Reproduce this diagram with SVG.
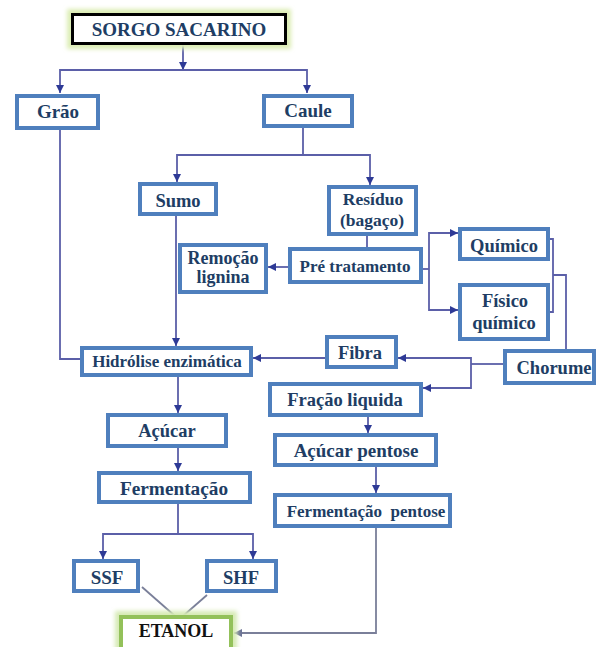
<svg xmlns="http://www.w3.org/2000/svg" width="597" height="647" viewBox="0 0 597 647">
  <defs>
    <marker id="arr" markerUnits="userSpaceOnUse" markerWidth="9" markerHeight="8" refX="8" refY="4" orient="auto">
      <path d="M0,0 L8,4 L0,8 Z" fill="#2e3a96"/>
    </marker>
    <marker id="arrGray" markerUnits="userSpaceOnUse" markerWidth="9" markerHeight="8" refX="8" refY="4" orient="auto">
      <path d="M0,0 L8,4 L0,8 Z" fill="#6b7296"/>
    </marker>
    <filter id="glow" x="-20%" y="-40%" width="140%" height="180%">
      <feGaussianBlur stdDeviation="2"/>
    </filter>
  </defs>
  <style>
    .box { fill: #ffffff; stroke: #4f7fbd; stroke-width: 4; }
    .lbl { fill: #203d64; text-anchor: middle; }
    .blk { fill: #111111; }
    .ln { fill: none; stroke: #5b5fa8; stroke-width: 1.8; }
    .ar { marker-end: url(#arr); }
    .gray { fill: none; stroke: #7a7f99; stroke-width: 1.8; }
  </style>
  <rect width="597" height="647" fill="#ffffff"/>

  <!-- connectors -->
  <g id="connectors">
    <path class="ln ar" d="M183 45 V70"/>
    <path class="ln ar" d="M183 70 H60 V93"/>
    <path class="ln ar" d="M183 70 H307 V93"/>
    <path class="ln" d="M303 128 V155"/>
    <path class="ln ar" d="M303 155 H177 V182"/>
    <path class="ln ar" d="M303 155 H370 V185"/>
    <path class="ln" d="M367 236 V247"/>
    <path class="ln ar" d="M288 267 H268"/>
    <path class="ln ar" d="M176 216 V346"/>
    <path class="ln" d="M60 130 V359 H80"/>
    <path class="ln" d="M423 269 H429"/>
    <path class="ln ar" d="M429 269 V233 H458"/>
    <path class="ln ar" d="M429 269 V310 H458"/>
    <path class="ln" d="M550 239 H553 V312 H550"/>
    <path class="ln" d="M553 275 H566 V349"/>
    <path class="ln" d="M503 364 H471"/>
    <path class="ln ar" d="M471 364 V358 H398"/>
    <path class="ln ar" d="M471 364 V388 H423"/>
    <path class="ln ar" d="M325 358 H253"/>
    <path class="ln ar" d="M178 377 V413"/>
    <path class="ln ar" d="M178 448 V471"/>
    <path class="ln" d="M178 504 V534"/>
    <path class="ln ar" d="M178 534 H103 V559"/>
    <path class="ln ar" d="M178 534 H253 V559"/>
    <path class="gray" d="M142 587 L175 616"/>
    <path class="gray" d="M207 595 L183 616"/>
    <path class="ln ar" d="M368 417 V433"/>
    <path class="ln ar" d="M376 467 V493"/>
    <path class="gray" d="M376 527 V633 H234" marker-end="url(#arrGray)"/>
  </g>

  <!-- nodes -->
  <g id="sorgo">
    <rect x="67" y="9" width="224" height="40" fill="#dcedb4" filter="url(#glow)"/>
    <rect x="72.5" y="14.5" width="213" height="29" fill="#ffffff" stroke="#000000" stroke-width="3"/>
    <text class="lbl" x="179" y="36" font-family="Liberation Serif" font-weight="bold" font-size="19">SORGO SACARINO</text>
  </g>
  <g id="grao">
    <rect class="box" x="17" y="96" width="81" height="32"/>
    <text class="lbl" x="58" y="118" font-family="Liberation Serif" font-weight="bold" font-size="19">Grão</text>
  </g>
  <g id="caule">
    <rect class="box" x="264" y="96" width="88" height="30"/>
    <text class="lbl" x="308" y="117" font-family="Liberation Serif" font-weight="bold" font-size="19">Caule</text>
  </g>
  <g id="sumo">
    <rect class="box" x="140" y="184" width="76" height="30"/>
    <text class="lbl" x="178" y="207" font-family="Liberation Serif" font-weight="bold" font-size="18.5">Sumo</text>
  </g>
  <g id="residuo">
    <rect class="box" x="329" y="187" width="87" height="47"/>
    <text class="lbl" x="373" y="205" font-family="Liberation Serif" font-weight="bold" font-size="17.5">Resíduo</text>
    <text class="lbl" x="372" y="226" font-family="Liberation Serif" font-weight="bold" font-size="17.5">(bagaço)</text>
  </g>
  <g id="pre-tratamento">
    <rect class="box" x="290" y="249" width="131" height="33"/>
    <text class="lbl" x="355" y="272" font-family="Liberation Serif" font-weight="bold" font-size="17">Pré tratamento</text>
  </g>
  <g id="remocao-lignina">
    <rect class="box" x="180" y="245" width="86" height="47"/>
    <text class="lbl" x="223" y="264" font-family="Liberation Serif" font-weight="bold" font-size="18">Remoção</text>
    <text class="lbl" x="223" y="283" font-family="Liberation Serif" font-weight="bold" font-size="18">lignina</text>
  </g>
  <g id="quimico">
    <rect class="box" x="460" y="229" width="88" height="30"/>
    <text class="lbl" x="504" y="252" font-family="Liberation Serif" font-weight="bold" font-size="18.5">Químico</text>
  </g>
  <g id="fisico-quimico">
    <rect class="box" x="460" y="285" width="88" height="54"/>
    <text class="lbl" x="505" y="307" font-family="Liberation Serif" font-weight="bold" font-size="18.5">Físico</text>
    <text class="lbl" x="504" y="329" font-family="Liberation Serif" font-weight="bold" font-size="18.5">químico</text>
  </g>
  <g id="chorume">
    <rect class="box" x="505" y="351" width="89" height="32"/>
    <text class="lbl" x="554" y="374" font-family="Liberation Serif" font-weight="bold" font-size="18.5">Chorume</text>
  </g>
  <g id="hidrolise">
    <rect class="box" x="82" y="348" width="169" height="27"/>
    <text class="lbl" x="167" y="367" font-family="Liberation Serif" font-weight="bold" font-size="17">Hidrólise enzimática</text>
  </g>
  <g id="fibra">
    <rect class="box" x="327" y="337" width="69" height="30"/>
    <text class="lbl" x="360" y="359" font-family="Liberation Serif" font-weight="bold" font-size="18.5">Fibra</text>
  </g>
  <g id="fracao-liquida">
    <rect class="box" x="270" y="384" width="151" height="31"/>
    <text class="lbl" x="345" y="406" font-family="Liberation Serif" font-weight="bold" font-size="18.5">Fração liquida</text>
  </g>
  <g id="acucar">
    <rect class="box" x="108" y="415" width="118" height="31"/>
    <text class="lbl" x="167" y="437" font-family="Liberation Serif" font-weight="bold" font-size="18.5">Açúcar</text>
  </g>
  <g id="acucar-pentose">
    <rect class="box" x="275" y="435" width="161" height="30"/>
    <text class="lbl" x="356" y="457" font-family="Liberation Serif" font-weight="bold" font-size="19">Açúcar pentose</text>
  </g>
  <g id="fermentacao">
    <rect class="box" x="99" y="473" width="151" height="29"/>
    <text class="lbl" x="174" y="495" font-family="Liberation Serif" font-weight="bold" font-size="19.3">Fermentação</text>
  </g>
  <g id="fermentacao-pentose">
    <rect class="box" x="275" y="495" width="175" height="31"/>
    <text class="lbl" x="366" y="517" font-family="Liberation Serif" font-weight="bold" font-size="17" xml:space="preserve">Fermentação  pentose</text>
  </g>
  <g id="ssf">
    <rect class="box" x="74" y="561" width="64" height="30"/>
    <text class="lbl" x="107" y="584" font-family="Liberation Serif" font-weight="bold" font-size="19">SSF</text>
  </g>
  <g id="shf">
    <rect class="box" x="207" y="561" width="69" height="30"/>
    <text class="lbl" x="241" y="584" font-family="Liberation Serif" font-weight="bold" font-size="18.5">SHF</text>
  </g>
  <g id="etanol">
    <rect x="115" y="611" width="122" height="44" fill="#d6eab4" filter="url(#glow)"/>
    <rect x="121" y="617" width="110" height="34" fill="#ffffff" stroke="#93c15a" stroke-width="4"/>
    <text class="lbl blk" x="176" y="637" font-family="Liberation Serif" font-weight="bold" font-size="18">ETANOL</text>
  </g>
</svg>
